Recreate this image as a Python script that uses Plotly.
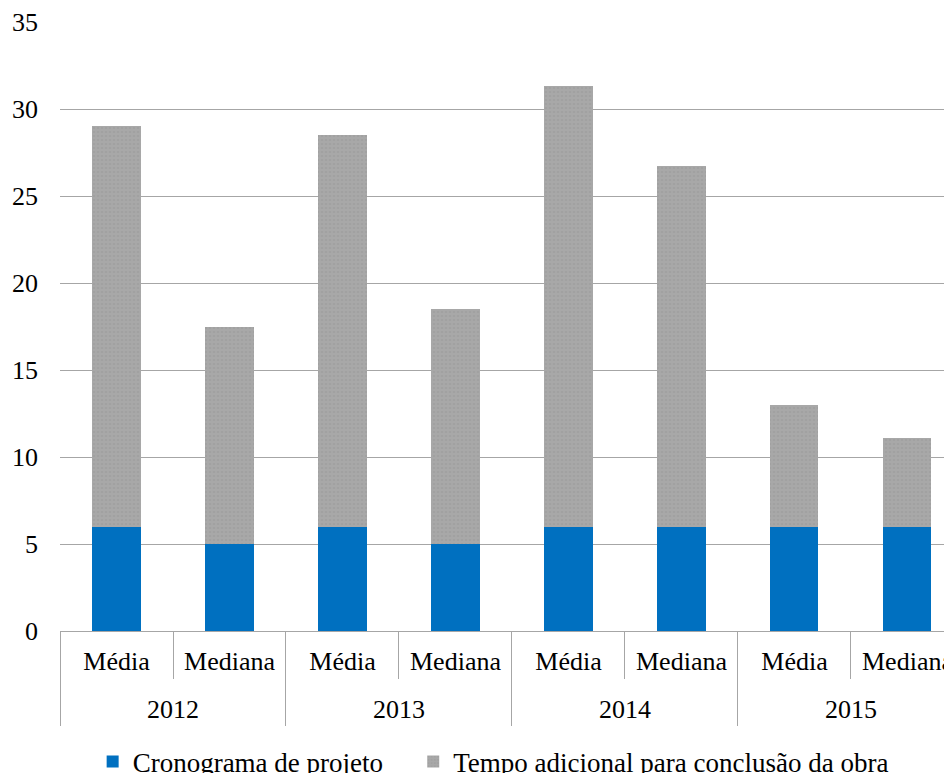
import plotly.graph_objects as go

years = ["2012", "2012", "2013", "2013", "2014", "2014", "2015", "2015"]
stats = ["Média", "Mediana", "Média", "Mediana", "Média", "Mediana", "Média", "Mediana"]
cronograma = [6, 5, 6, 5, 6, 6, 6, 6]
adicional = [23, 12.5, 22.5, 13.5, 25.3, 20.7, 7, 5.1]
y_ticks = [0, 5, 10, 15, 20, 25, 30, 35]
year_labels = ["2012", "2013", "2014", "2015"]

FONT = "Liberation Serif, Times New Roman, serif"
GRID = "#a6a6a6"

# category index positions used by the (multicategory) axis
idx = list(range(len(stats)))
year_centers = [sum(i for i, y in enumerate(years) if y == yl) / years.count(yl) for yl in year_labels]
cat_bounds = [i - 0.5 for i in range(len(stats) + 1)]
group_bounds = [-0.5] + [i + 0.5 for i in range(len(years) - 1) if years[i] != years[i + 1]] + [len(years) - 0.5]

fig = go.Figure()
fig.add_trace(go.Bar(
    x=[years, stats], y=cronograma, name="Cronograma de projeto",
    marker=dict(color="#0070c0", line=dict(width=0)),
    legend="legend",
))
fig.add_trace(go.Bar(
    x=[years, stats], y=adicional, name="Tempo adicional para conclusão da obra",
    marker=dict(color="#a6a6a6", line=dict(width=0),
                pattern=dict(shape=".", fgcolor="#9a9a9a", bgcolor="#a8a8a8", size=4, solidity=0.3)),
    legend="legend2",
))
# invisible helper traces so the two label-level axes are drawn
for ax in ("x2", "x3"):
    fig.add_trace(go.Scatter(x=idx, y=[0] * len(idx), xaxis=ax, yaxis="y", mode="markers",
                             marker=dict(opacity=0, size=1), showlegend=False, hoverinfo="skip"))

RANGE = [-0.5, 7.394]
LEGEND_FONT = dict(family=FONT, size=27, color="black")

fig.update_layout(
    width=944, height=765,
    barmode="stack", bargap=0.575,
    plot_bgcolor="white", paper_bgcolor="white",
    margin=dict(l=52, r=0, t=14, b=142, autoexpand=False),
    font=dict(family=FONT, size=26, color="black"),
    showlegend=True,
    legend=dict(orientation="h", x=0.0366, xanchor="left", y=-0.215, yanchor="middle",
                font=LEGEND_FONT, bgcolor="rgba(0,0,0,0)"),
    legend2=dict(orientation="h", x=0.396, xanchor="left", y=-0.215, yanchor="middle",
                 font=LEGEND_FONT, bgcolor="rgba(0,0,0,0)"),
    xaxis=dict(
        type="multicategory", range=RANGE,
        showline=True, linecolor=GRID, linewidth=1,
        ticks="", showticklabels=False, showdividers=False, showgrid=False,
    ),
    xaxis2=dict(
        overlaying="x", anchor="y", side="bottom", range=RANGE,
        tickmode="array", tickvals=idx, ticktext=stats,
        ticks="", ticklabelstandoff=12, ticklabeloverflow="allow",
        showgrid=False, zeroline=False, showline=False,
        tickfont=dict(family=FONT, size=26, color="black"),
        minor=dict(tickmode="array", tickvals=cat_bounds, ticks="outside", ticklen=47,
                   tickcolor=GRID, tickwidth=1, showgrid=False),
    ),
    xaxis3=dict(
        overlaying="x", anchor="y", side="bottom", range=RANGE,
        tickmode="array", tickvals=year_centers, ticktext=year_labels,
        ticks="", ticklabelstandoff=60, ticklabeloverflow="allow",
        showgrid=False, zeroline=False, showline=False,
        tickfont=dict(family=FONT, size=26, color="black"),
        minor=dict(tickmode="array", tickvals=group_bounds, ticks="outside", ticklen=94,
                   tickcolor=GRID, tickwidth=1, showgrid=False),
    ),
    yaxis=dict(
        range=[0, 35], tickvals=y_ticks, ticktext=[str(v) for v in y_ticks],
        showgrid=True, gridcolor=GRID, gridwidth=1,
        zeroline=False, showline=False,
        ticklabelstandoff=21,
        tickfont=dict(family=FONT, size=26, color="black"),
    ),
)

fig.write_html("out.html")
